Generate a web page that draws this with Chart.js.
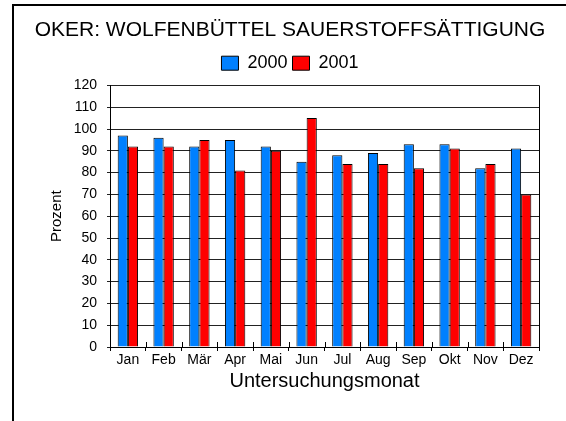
<!DOCTYPE html>
<html>
<head>
<meta charset="utf-8">
<script src="https://cdn.jsdelivr.net/npm/chart.js@4/dist/chart.umd.min.js"></script>
<style>
  html, body { margin: 0; padding: 0; background: #fff; overflow: hidden; }
  #wrap { position: relative; width: 566px; height: 421px; }
  #frame { position: absolute; left: 12px; top: 4px; width: 600px; height: 500px;
           border-left: 2px solid #000; border-top: 2px solid #000; }
  canvas { position: absolute; left: 0; top: 0; }
</style>
</head>
<body>
<div id="wrap">
  <div id="frame"></div>
  <canvas id="c" width="566" height="421"></canvas>
</div>
<script>
const chartTitle = 'OKER: WOLFENBÜTTEL SAUERSTOFFSÄTTIGUNG';
const months = ['Jan', 'Feb', 'Mär', 'Apr', 'Mai', 'Jun', 'Jul', 'Aug', 'Sep', 'Okt', 'Nov', 'Dez'];
const seriesNames = ['2000', '2001'];
const values2000 = [97, 96, 92, 95, 92, 85, 88, 89, 93, 93, 82, 91];
const values2001 = [92, 92, 95, 81, 90, 105, 84, 84, 82, 91, 84, 70];
const yTitle = 'Prozent';
const xTitle = 'Untersuchungsmonat';

const FONT = 'Arial, "Liberation Sans", sans-serif';

const crossTicks = {
  id: 'crossTicks',
  afterDatasetsDraw(chart) {
    const { ctx, chartArea, scales: { x } } = chart;
    ctx.save();
    ctx.strokeStyle = '#000';
    ctx.lineWidth = 1;
    ctx.beginPath();
    const r = Math.round(chartArea.right) + 0.5;
    ctx.moveTo(r, chartArea.top);
    ctx.lineTo(r, chartArea.bottom);
    for (let i = 0; i <= months.length; i++) {
      const px = Math.round(x.getPixelForValue(i - 0.5)) + 0.5;
      ctx.moveTo(px, chartArea.bottom);
      ctx.lineTo(px, chartArea.bottom - 5);
    }
    ctx.stroke();
    ctx.restore();
  }
};

new Chart(document.getElementById('c'), {
  type: 'bar',
  data: {
    labels: months,
    datasets: [
      { label: seriesNames[0], data: values2000, backgroundColor: '#0080FF', borderColor: '#000', borderWidth: 1 },
      { label: seriesNames[1], data: values2001, backgroundColor: '#FF0000', borderColor: '#000', borderWidth: 1 }
    ]
  },
  options: {
    responsive: false,
    animation: false,
    devicePixelRatio: 1,
    layout: { padding: { left: 14, right: 0, top: 0, bottom: 0 } },
    datasets: { bar: { categoryPercentage: 0.57, barPercentage: 1.0 } },
    plugins: {
      title: {
        display: true, text: chartTitle, color: '#000',
        font: { family: FONT, size: 21, weight: 'normal' },
        padding: { top: 18, bottom: 6 }
      },
      subtitle: {
        display: true, text: ' ', weight: 500,
        font: { size: 1 }, padding: { top: 2, bottom: 0 }
      },
      legend: {
        display: true, position: 'top',
        labels: {
          color: '#000', font: { family: FONT, size: 18 },
          boxWidth: 17, boxHeight: 14, padding: 5
        }
      },
      tooltip: { enabled: false }
    },
    scales: {
      x: {
        afterFit(scale) { scale.height = 74; },
        grid: { display: true, drawOnChartArea: false, drawTicks: true, tickLength: 4, color: '#000', offset: true },
        border: { display: true, color: '#000', width: 1 },
        ticks: { color: '#000', font: { family: FONT, size: 14 }, padding: 1, maxRotation: 0, autoSkip: false },
        title: { display: true, text: xTitle, color: '#000', font: { family: FONT, size: 20 }, padding: { top: 0, bottom: 28 } }
      },
      y: {
        min: 0, max: 120,
        afterFit(scale) { scale.width = 96; },
        grid: { color: '#222', tickLength: 3, drawTicks: true },
        border: { display: true, color: '#000', width: 1 },
        ticks: { stepSize: 10, color: '#000', font: { family: FONT, size: 14 }, padding: 10 },
        title: { display: true, text: yTitle, color: '#000', font: { family: FONT, size: 15 }, padding: { top: 34, bottom: 0 } }
      },
      yRight: {
        position: 'right',
        display: true,
        afterFit(scale) { scale.width = 27; },
        grid: { display: false, drawOnChartArea: false, drawTicks: false },
        border: { display: false },
        ticks: { display: false }
      }
    }
  },
  plugins: [crossTicks]
});
</script>
</body>
</html>
